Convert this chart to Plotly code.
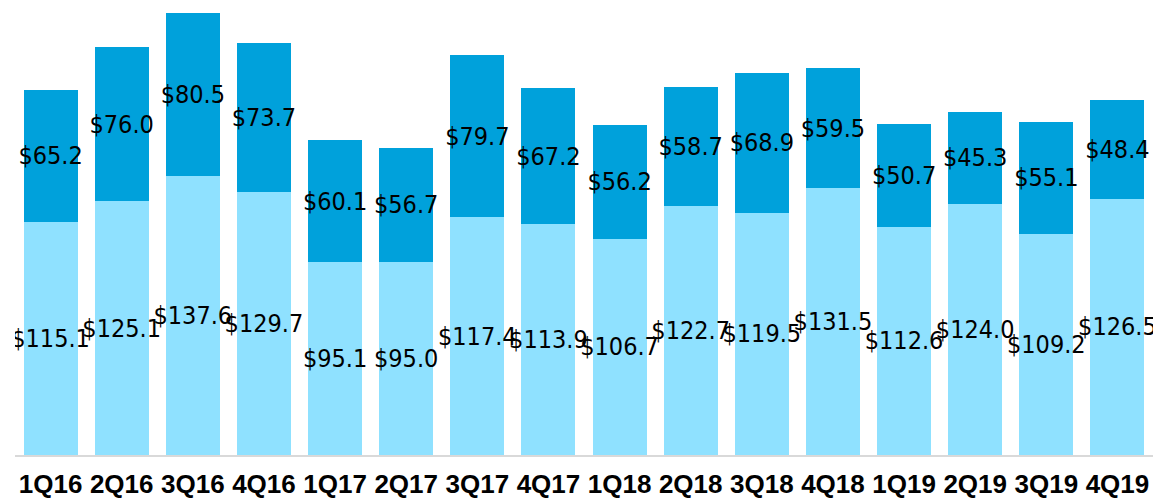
import plotly.graph_objects as go

quarters = ["1Q16", "2Q16", "3Q16", "4Q16", "1Q17", "2Q17", "3Q17", "4Q17",
            "1Q18", "2Q18", "3Q18", "4Q18", "1Q19", "2Q19", "3Q19", "4Q19"]
bottom_vals = [115.1, 125.1, 137.6, 129.7, 95.1, 95.0, 117.4, 113.9,
               106.7, 122.7, 119.5, 131.5, 112.6, 124.0, 109.2, 126.5]
top_vals = [65.2, 76.0, 80.5, 73.7, 60.1, 56.7, 79.7, 67.2,
            56.2, 58.7, 68.9, 59.5, 50.7, 45.3, 55.1, 48.4]

label_font = dict(family="Liberation Sans Narrow, DejaVu Sans Condensed, Liberation Sans, Arial",
                  size=25, color="black")

fig = go.Figure()
fig.add_trace(go.Bar(
    x=quarters, y=bottom_vals, marker=dict(color="#8FE1FF", line=dict(width=0)),
    texttemplate="$%{y:.1f}", textposition="inside", insidetextanchor="middle",
    textangle=0, constraintext="none", textfont=label_font, hoverinfo="skip",
))
fig.add_trace(go.Bar(
    x=quarters, y=top_vals, marker=dict(color="#00A1DB", line=dict(width=0)),
    texttemplate="$%{y:.1f}", textposition="inside", insidetextanchor="middle",
    textangle=0, constraintext="none", textfont=label_font, hoverinfo="skip",
))
fig.update_layout(
    barmode="stack", bargap=0.24, width=1157, height=498,
    margin=dict(l=15, r=4, t=5, b=43),
    plot_bgcolor="white", paper_bgcolor="white", showlegend=False,
)
fig.update_xaxes(showline=True, linecolor="#D9D9D9", linewidth=2, ticks="",
                 ticklabelstandoff=5, automargin=False,
                 tickfont=dict(family="Liberation Sans, Arial", size=26, color="black", weight="bold"),
                 showgrid=False)
fig.update_yaxes(range=[0, 222], visible=False, showgrid=False, zeroline=False, automargin=False)
fig.write_html("out.html", config={"displayModeBar": False},
               post_script="document.body.style.margin='0';document.body.style.overflow='hidden';")
